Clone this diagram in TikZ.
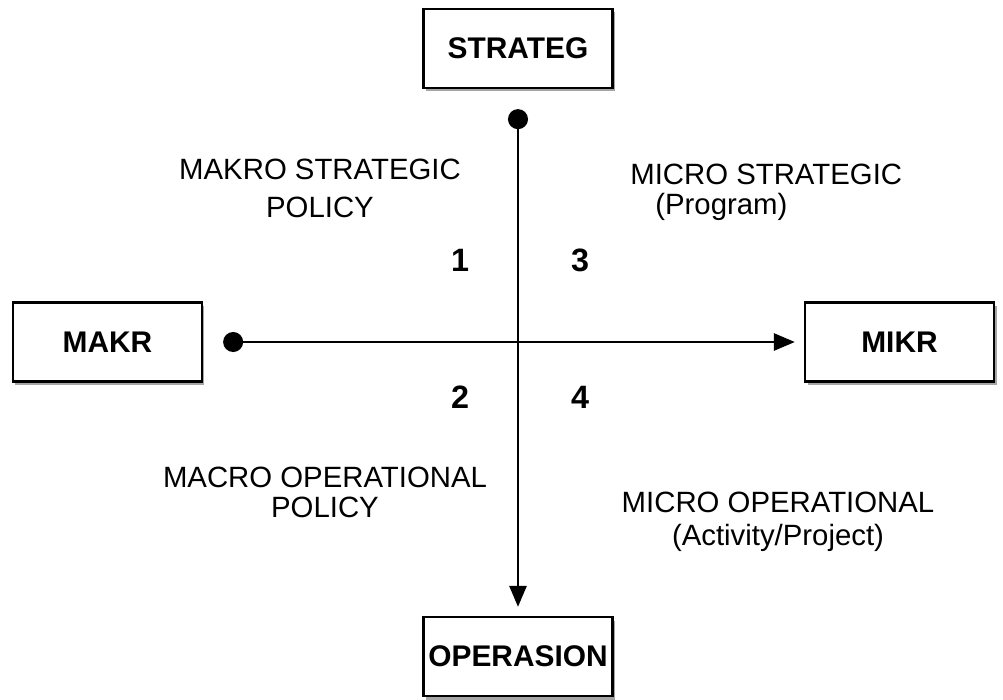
\documentclass[tikz,border=0pt]{standalone}
\usepackage{fontspec}
\setmainfont{Liberation Sans}
\usetikzlibrary{arrows.meta,shadows}

\begin{document}
\begin{tikzpicture}[
  box/.style={draw, line width=1.3pt, fill=white, minimum width=3.78cm, minimum height=1.58cm,
    inner sep=0pt, font=\fontsize{17}{20}\selectfont\bfseries,
    drop shadow={shadow xshift=0.05cm, shadow yshift=-0.07cm, fill=black!70}},
  lbl/.style={inner sep=0pt, align=center, font=\fontsize{16.7}{18}\selectfont},
  num/.style={inner sep=0pt, font=\fontsize{18.4}{20}\selectfont\bfseries},
  axisline/.style={line width=1.6pt, {Circle[length=0.4cm]}-{Triangle[length=0.42cm,width=0.34cm]},
    shorten <=0.4cm, shorten >=0.18cm}
]
\useasboundingbox (-10.36,-7.16) rectangle (9.7,6.84);

% the four boxes
\node[box] (strateg) at (0,5.87) {STRATEG};
\node[box] (makr) at (-8.21,0) {MAKR};
\node[box] (mikr) at (7.63,0) {MIKR};
\node[box] (operasion) at (0,-6.29) {OPERASION};

% axes
\draw[axisline] (strateg) -- (operasion);
\draw[axisline] (makr) -- (mikr);

% quadrant numbers
\node[num] (q1) at (-1.16,1.64) {1};
\node[num] (q3) at (1.24,1.64) {3};
\node[num] (q2) at (-1.16,-1.1) {2};
\node[num] (q4) at (1.24,-1.1) {4};

% quadrant labels
\node[lbl, anchor=north, font=\fontsize{16.7}{21.6}\selectfont] (makrostrat) at (-3.96,3.66) {MAKRO STRATEGIC\\POLICY};
\node[lbl, anchor=north west, align=left, font=\fontsize{16.7}{17}\selectfont] (microstrat) at (2.24,3.56) {MICRO STRATEGIC\\\hspace*{0.5cm}(Program)};
\node[lbl, anchor=north, font=\fontsize{16.7}{17}\selectfont] (macroop) at (-3.86,-2.5) {MACRO OPERATIONAL\\POLICY};
\node[lbl, anchor=north, font=\fontsize{16.7}{18.8}\selectfont] (microop) at (5.2,-3.0) {MICRO OPERATIONAL\\(Activity/Project)};
\end{tikzpicture}
\end{document}
